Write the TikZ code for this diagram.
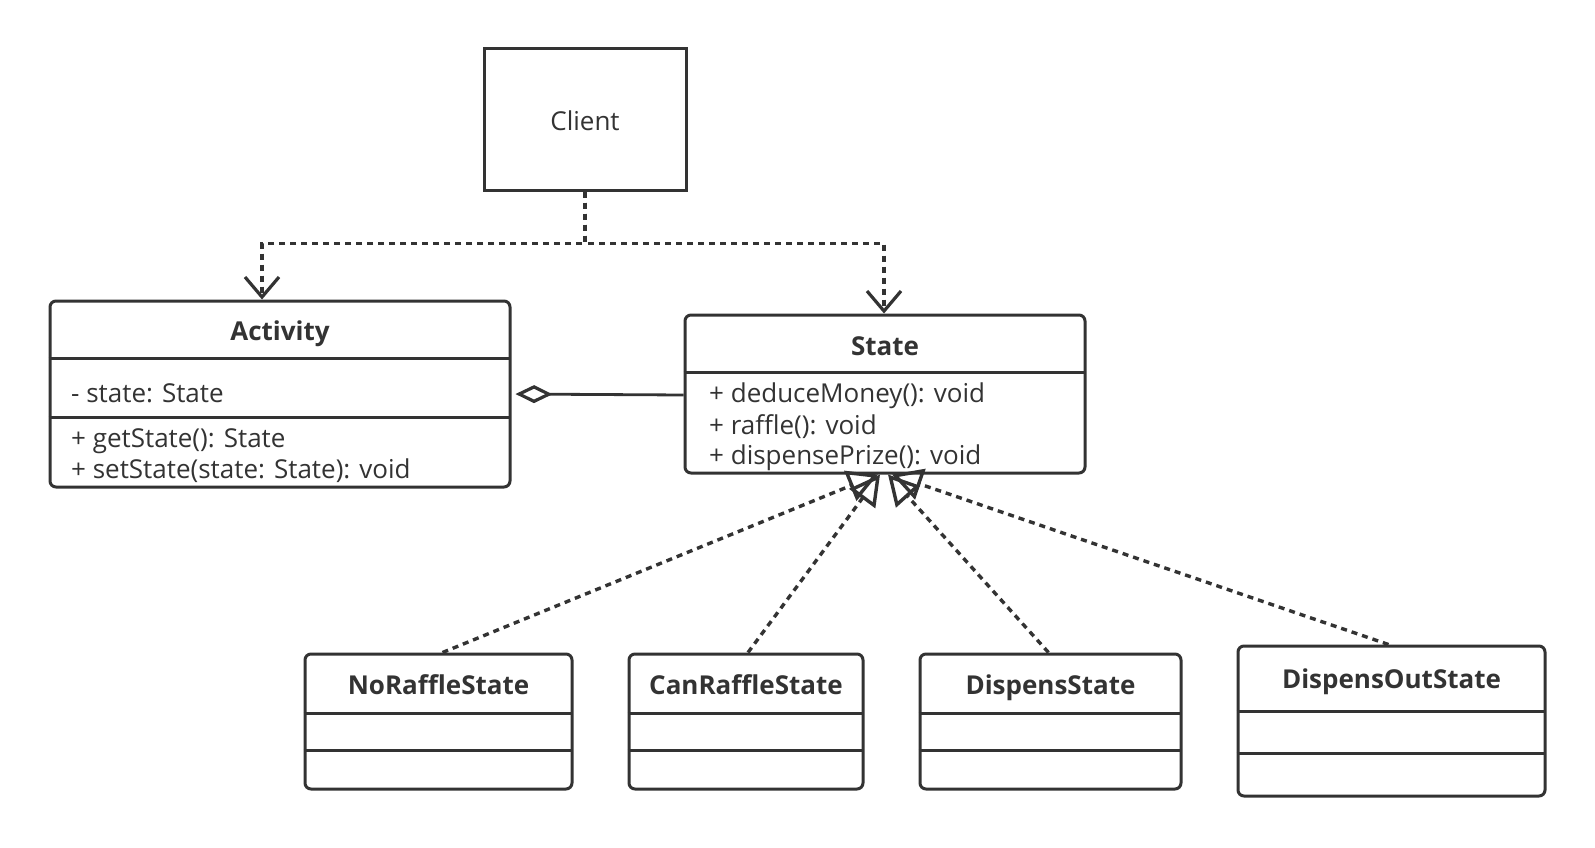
\documentclass[tikz,border=0pt]{standalone}
\usepackage{fontspec}
\setmainfont{Open Sans}
\usetikzlibrary{arrows.meta,calc}
\definecolor{ink}{HTML}{333333}
\begin{document}
\begin{tikzpicture}[x=1pt,y=-1pt,
  txt/.style={text=ink, inner sep=0pt, font=\fontsize{26}{32}\selectfont},
  ttl/.style={text=ink, inner sep=0pt, font=\fontsize{26}{32}\selectfont\bfseries},
  plainbox/.style={draw=ink, line width=3pt, inner sep=0pt},
  classbox/.style={draw=ink, line width=3pt, rounded corners=6pt, inner sep=0pt},
  divline/.style={draw=ink, line width=3pt},
  dep/.style={draw=ink, line width=3.4pt, dash pattern=on 6pt off 5pt},
  solidline/.style={draw=ink, line width=2.8pt},
  openv/.style={-{Straight Barb[length=20pt,width=34pt,line width=3.2pt]}},
  realize/.style={-{Triangle[open,length=30pt,width=32pt,line width=3.4pt]}},
  aggr/.style={-{Diamond[open,length=37pt,width=18pt,line width=3.2pt]}}
]
\useasboundingbox (0,0) rectangle (1595,848);
\fill[white] (0,0) rectangle (1595,848);

% Client
\node[plainbox, minimum width=202pt, minimum height=141pt] (client) at (585,119.5) {};
\node[txt] (clienttext) at (585,121) {Client};

% Activity
\node[classbox, minimum width=460pt, minimum height=186pt] (activity) at (280,394) {};
\draw[divline] (activity.north west) ++(0,59) -- ++(460,0);
\draw[divline] (activity.north west) ++(0,118) -- ++(460,0);
\node[ttl, anchor=base] (activitytitle) at (280,340) {Activity};
\node[txt, anchor=base west] (activityattr) at (71,402) {- state: State};
\node[txt, anchor=base west] (activitym1) at (71,447) {+ getState(): State};
\node[txt, anchor=base west] (activitym2) at (71,478) {+ setState(state: State): void};

% State
\node[classbox, minimum width=400pt, minimum height=158pt] (state) at (885,394) {};
\draw[divline] (state.north west) ++(0,59) -- ++(400,0);
\node[ttl, anchor=base] (statetitle) at (885,355) {State};
\node[txt, anchor=base west] (statem1) at (709,402) {+ deduceMoney(): void};
\node[txt, anchor=base west] (statem2) at (709,434) {+ raffle(): void};
\node[txt, anchor=base west] (statem3) at (709,464) {+ dispensePrize(): void};

% Subclasses
\node[classbox, minimum width=267pt, minimum height=135pt] (noraffle) at (438.5,721.5) {};
\draw[divline] (noraffle.north west) ++(0,61) -- ++(267,0);
\draw[divline] (noraffle.north west) ++(0,98) -- ++(267,0);
\node[ttl, anchor=base] (norafflet) at (438.5,694) {NoRaffleState};

\node[classbox, minimum width=234pt, minimum height=135pt] (canraffle) at (746,721.5) {};
\draw[divline] (canraffle.north west) ++(0,61) -- ++(234,0);
\draw[divline] (canraffle.north west) ++(0,98) -- ++(234,0);
\node[ttl, anchor=base] (canrafflet) at (746,694) {CanRaffleState};

\node[classbox, minimum width=261pt, minimum height=135pt] (dispens) at (1050.5,721.5) {};
\draw[divline] (dispens.north west) ++(0,61) -- ++(261,0);
\draw[divline] (dispens.north west) ++(0,98) -- ++(261,0);
\node[ttl, anchor=base] (dispenst) at (1050.5,694) {DispensState};

\node[classbox, minimum width=307pt, minimum height=150pt] (dispensout) at (1391.5,721) {};
\draw[divline] (dispensout.north west) ++(0,67) -- ++(307,0);
\draw[divline] (dispensout.north west) ++(0,109) -- ++(307,0);
\node[ttl, anchor=base] (dispensoutt) at (1391.5,688) {DispensOutState};

% Client dependencies
\draw[dep, openv] (client.south) |- ($(activity.north)+(-18,-56)$) -- ($(activity.north)+(-18,0)$);
\draw[dep, openv] (client.south) |- ($(state.north)+(-1,-70)$) -- ($(state.north)+(-1,0)$);

% Aggregation
\draw[solidline, aggr, shorten >=4pt] ($(state.west)+(0,1)$) -- (activity.east);

% Realizations
\draw[dep, realize] ($(noraffle.north)+(4,0)$) -- ($(state.south)+(-7,0)$);
\draw[dep, realize] ($(canraffle.north)+(2,0)$) -- ($(state.south)+(-5,0)$);
\draw[dep, realize] ($(dispens.north)+(-2,0)$) -- ($(state.south)+(3,0)$);
\draw[dep, realize] ($(dispensout.north)+(-3,0)$) -- ($(state.south)+(7,0)$);
\end{tikzpicture}
\end{document}
